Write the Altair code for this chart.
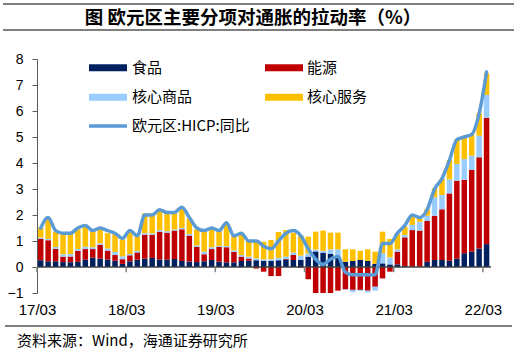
import altair as alt
import pandas as pd

# ---------------- data ----------------
year_labels = ["17/03", "18/03", "19/03", "20/03", "21/03", "22/03"]

series_names = ["食品", "能源", "核心商品", "核心服务"]
series_colors = ["#002060", "#C00000", "#99CCFF", "#FFC000"]
line_name = "欧元区:HICP:同比"
line_color = "#5B9BD5"

# monthly contributions, 2017-03 ... 2022-03 (61 months)
food = [0.26, 0.22, 0.22, 0.19, 0.18, 0.20, 0.28, 0.36, 0.32, 0.29,
        0.24, 0.12, 0.22, 0.28, 0.32, 0.35, 0.29, 0.28, 0.31, 0.23, 0.21, 0.19,
        0.22, 0.27, 0.21, 0.18, 0.18, 0.23, 0.24, 0.26, 0.23, 0.23, 0.26, 0.29,
        0.27, 0.28, 0.40, 0.60, 0.55, 0.50, 0.40, 0.20, 0.23, 0.27, 0.24, 0.12,
        0.14, 0.10, 0.10, 0.04, 0.01, 0.01, 0.20, 0.27, 0.27, 0.24, 0.32, 0.53,
        0.59, 0.71, 0.88]
energy = [0.82, 0.81, 0.48, 0.21, 0.22, 0.42, 0.41, 0.33, 0.53, 0.34,
          0.22, 0.18, 0.23, 0.28, 0.92, 0.88, 1.07, 1.04, 1.09, 1.22, 1.00, 0.58,
          0.27, 0.42, 0.56, 0.58, 0.40, 0.17, 0.09, -0.06, -0.18, -0.35, -0.35, 0.02,
          0.19, -0.03, -0.47, -1.05, -1.30, -1.02, -0.91, -0.86, -0.88, -0.88, -0.91, -0.76,
          -0.44, -0.18, 0.49, 1.10, 1.41, 1.39, 1.57, 1.70, 1.95, 2.59, 3.00, 2.82,
          3.14, 3.51, 4.86]
core_goods = [0.05, 0.05, 0.07, 0.09, 0.10, 0.07, 0.09, 0.07, 0.06, 0.08,
              0.12, 0.11, 0.05, 0.06, 0.06, 0.06, 0.06, 0.06, 0.04, 0.05, 0.06, 0.06,
              0.10, 0.07, 0.04, 0.05, 0.06, 0.06, 0.07, 0.07, 0.06, 0.07, 0.09, 0.09,
              0.10, 0.16, 0.12, 0.07, 0.07, 0.18, 0.28, -0.02, -0.09, -0.04, -0.07, -0.15,
              0.39, 0.27, 0.09, 0.09, 0.20, 0.34, 0.20, 0.71, 0.55, 0.54, 0.64, 0.80,
              0.55, 0.83, 0.88]
services = [0.38, 0.83, 0.59, 0.80, 0.78, 0.76, 0.77, 0.66, 0.55, 0.59,
            0.68, 0.65, 0.88, 0.55, 0.76, 0.75, 0.75, 0.71, 0.65, 0.76, 0.60, 0.62,
            0.78, 0.69, 0.57, 0.84, 0.56, 0.86, 0.64, 0.68, 0.68, 0.74, 1.00, 1.02,
            0.76, 0.78, 0.65, 0.69, 0.78, 0.64, 0.64, 0.48, 0.45, 0.35, 0.44, 0.47,
            0.83, 0.71, 0.61, 0.32, 0.34, 0.13, 0.26, 0.35, 0.61, 0.75, 0.95, 0.84,
            0.80, 0.86, 0.83]
hicp = [1.5, 1.9, 1.4, 1.3, 1.3, 1.5, 1.6, 1.4, 1.5, 1.4,
        1.3, 1.1, 1.4, 1.2, 2.0, 2.0, 2.2, 2.1, 2.1, 2.3, 1.9, 1.5,
        1.4, 1.5, 1.4, 1.7, 1.2, 1.3, 1.0, 1.0, 0.8, 0.7, 1.0, 1.3,
        1.4, 1.2, 0.7, 0.3, 0.1, 0.3, 0.4, -0.2, -0.3, -0.3, -0.3, -0.3,
        0.9, 0.9, 1.3, 1.6, 2.0, 1.9, 2.2, 3.0, 3.4, 4.1, 4.9, 5.0,
        5.1, 5.9, 7.5]

y_ticks = [-1, 0, 1, 2, 3, 4, 5, 6, 7, 8]

title_text = "图  欧元区主要分项对通胀的拉动率（%）"
source_text = "资料来源：Wind，海通证券研究所"

# ---------------- layout ----------------
LEFT, TOP = 37, 59
PW, PH = 457, 234
W, H = 525, 354
CJK = "Noto Sans CJK SC"
LATIN = "Liberation Sans"

n = len(hicp)
series_values = [food, energy, core_goods, services]

# stacked table (positives and negatives stacked separately, in series order)
rows = []
for i in range(n):
    pos, neg = 0.0, 0.0
    for k, vals in enumerate(series_values):
        v = vals[i]
        if v >= 0:
            y0, y1 = pos, pos + v
            pos = y1
        else:
            y0, y1 = neg, neg + v
            neg = y1
        rows.append({"x0": i + 0.13, "x1": i + 0.87, "y0": y0, "y1": y1,
                     "series": series_names[k], "k": k})
bars_df = pd.DataFrame(rows)
line_df = pd.DataFrame({"xc": [i + 0.5 for i in range(n)], "v": hicp})

xscale = alt.Scale(domain=[0, 61.5], nice=False, zero=False)
yscale = alt.Scale(domain=[-1, 8], nice=False, zero=False)

label_expr = "[" + ",".join("'%s'" % s for s in year_labels) + "][round(datum.value/12)]"

x_axis = alt.Axis(values=[12 * j for j in range(len(year_labels))], labelExpr=label_expr,
                  domain=False, ticks=False, grid=False, labelPadding=9,
                  labelFont=LATIN, labelFontSize=15, labelColor="#000000",
                  labelFlush=False, labelOverlap=False, title=None)
y_axis = alt.Axis(values=y_ticks, grid=False, domain=True, domainColor="#595959",
                  tickColor="#595959", tickSize=5, labelPadding=9, labelFont=LATIN,
                  labelFontSize=14, labelColor="#000000", labelOverlap=False,
                  labelFlush=False, labelBound=False, format="d", title=None)


def X(field):
    return alt.X(field, scale=xscale, axis=x_axis, title=None)


def Y(field):
    return alt.Y(field, scale=yscale, axis=y_axis, title=None)


bars = alt.Chart(bars_df).mark_bar(clip=True).encode(
    x=X("x0:Q"), x2="x1:Q",
    y=Y("y0:Q"), y2="y1:Q",
    color=alt.Color("series:N", scale=alt.Scale(domain=series_names, range=series_colors),
                    legend=None),
)

zero_df = pd.DataFrame({"a": [0], "b": [61.1], "y": [0]})
zero_line = alt.Chart(zero_df).mark_rule(color="#404040", strokeWidth=1.5).encode(
    x=X("a:Q"), x2="b:Q", y=Y("y:Q"))

tick_df = pd.DataFrame({"x": [12 * j for j in range(len(year_labels))], "y0": 0.0, "y1": -0.2})
year_ticks = alt.Chart(tick_df).mark_rule(color="#808080", strokeWidth=1.5).encode(
    x=X("x:Q"), y=Y("y0:Q"), y2="y1:Q")

line = alt.Chart(line_df).mark_line(interpolate="monotone", color=line_color, strokeWidth=3.5,
                                    strokeCap="round", strokeJoin="round").encode(
    x=X("xc:Q"), y=Y("v:Q"))

one = pd.DataFrame({"a": [0]})
layers = [bars, zero_line, year_ticks, line]


def rel_x(x):
    return x - LEFT


def rel_y(y):
    return y - TOP


# legend (manual, two columns + line row)
sw_x = [89, 265]
txt_x = [132, 307]
row_y = [67.7, 97.3]
for k, name in enumerate(series_names):
    col, r = k % 2, k // 2
    layers.append(alt.Chart(one).mark_rect(color=series_colors[k]).encode(
        x=alt.value(rel_x(sw_x[col])), x2=alt.value(rel_x(sw_x[col] + 38)),
        y=alt.value(rel_y(row_y[r] - 3.5)), y2=alt.value(rel_y(row_y[r] + 3.5))))
    layers.append(alt.Chart(one).mark_text(text=name, align="left", baseline="middle",
                                           font=CJK, fontSize=15, color="#000000").encode(
        x=alt.value(rel_x(txt_x[col])), y=alt.value(rel_y(row_y[r]))))
line_row_y = 126
layers.append(alt.Chart(one).mark_rule(color=line_color, strokeWidth=3.5).encode(
    x=alt.value(rel_x(sw_x[0])), x2=alt.value(rel_x(sw_x[0] + 38)),
    y=alt.value(rel_y(line_row_y))))
layers.append(alt.Chart(one).mark_text(text=line_name, align="left", baseline="middle",
                                       font=CJK, fontSize=15, color="#000000").encode(
    x=alt.value(rel_x(txt_x[0])), y=alt.value(rel_y(line_row_y))))

# title block and source block
for yy in [4, 30]:
    layers.append(alt.Chart(one).mark_rule(color="#000000", strokeWidth=1.2).encode(
        x=alt.value(rel_x(3)), x2=alt.value(rel_x(514)), y=alt.value(rel_y(yy))))
layers.append(alt.Chart(one).mark_text(text=title_text, align="center", baseline="middle",
                                       font=CJK, fontSize=18.5, fontWeight="bold",
                                       color="#000000").encode(
    x=alt.value(rel_x(253)), y=alt.value(rel_y(18))))
layers.append(alt.Chart(one).mark_rule(color="#000000", strokeWidth=1.2).encode(
    x=alt.value(rel_x(5)), x2=alt.value(rel_x(512)), y=alt.value(rel_y(326))))
layers.append(alt.Chart(one).mark_text(text=source_text, align="left", baseline="middle",
                                       font=CJK, fontSize=15, color="#000000").encode(
    x=alt.value(rel_x(17)), y=alt.value(rel_y(341))))

chart = alt.layer(*layers).properties(
    width=PW, height=PH,
    padding={"left": LEFT, "top": TOP, "right": W - LEFT - PW, "bottom": H - TOP - PH},
    autosize=alt.AutoSizeParams(type="none"),
    background="#FFFFFF",
).configure_view(stroke=None)

chart.save("out.html", embed_options={"renderer": "svg", "actions": False})
